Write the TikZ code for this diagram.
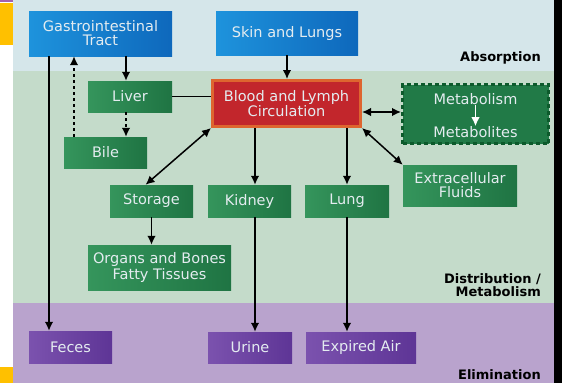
\documentclass[tikz,border=0pt]{standalone}
\usepackage{xcolor}
\usepackage{fontspec}
\setmainfont{DejaVu Sans}
\usepackage{tikz}
\usetikzlibrary{positioning}
\usetikzlibrary{arrows,arrows.meta}

\definecolor{absorbbg}{HTML}{D5E6EA}
\definecolor{distribbg}{HTML}{C4DBCA}
\definecolor{elimbg}{HTML}{B9A3CD}
\definecolor{bluelt}{HTML}{1E93DC}
\definecolor{bluedk}{HTML}{0E68BC}
\definecolor{greenlt}{HTML}{35955C}
\definecolor{greendk}{HTML}{1F7443}
\definecolor{purplelt}{HTML}{7B52AE}
\definecolor{purpledk}{HTML}{5E3596}
\definecolor{bloodred}{HTML}{C2262C}
\definecolor{bloodrim}{HTML}{DE652F}
\definecolor{metabfill}{HTML}{217A47}
\definecolor{metabrim}{HTML}{0D5A2C}
\definecolor{boxtext}{HTML}{E4ECF0}
\definecolor{stripe}{HTML}{FFC000}

\tikzset{
  box/.style={text=boxtext, align=center, inner sep=0pt,
    font=\fontsize{14.5}{14}\selectfont},
  bluebox/.style={box, left color=bluelt, right color=bluedk},
  greenbox/.style={box, left color=greenlt, right color=greendk},
  purplebox/.style={box, left color=purplelt, right color=purpledk},
  zone/.style={anchor=east, align=right, inner sep=0pt,
    font=\bfseries\fontsize{13}{13}\selectfont},
  tip/.style={>={Latex[length=9pt,width=8.5pt]}},
  flow/.style={tip, ->, line width=1.5pt},
  both/.style={tip, <->, line width=1.5pt},
}

\begin{document}
\begin{tikzpicture}[x=1pt, y=-1pt]
	\useasboundingbox (0,0) rectangle (562,383);
	% bands
	\fill[absorbbg] (13,0) rectangle (554,71);
	\fill[distribbg] (13,71) rectangle (554,303);
	\fill[elimbg] (13,303) rectangle (554,383);
	\fill[stripe] (0,3) rectangle (13,45);
	\fill[stripe] (0,367) rectangle (13,383);
	\fill[elimbg!60!violet] (0,0) rectangle (13,2);
	\fill[black] (554,0) rectangle (562,383);
	
	\node[zone] (absorb) at (541,58) {Absorption};
	\node[zone] (distrib) at (541,285) {Distribution /\\Metabolism};
	\node[zone] (elim) at (541,375) {Elimination};
	
	% absorption
	\node[bluebox, minimum width=143pt, minimum height=45pt] (gi) at (100.5,33.5) {Gastrointestinal\\Tract};
	\node[bluebox, minimum width=142pt, minimum height=44pt] (skin) at (287,33) {Skin and Lungs};
	
	% distribution
	\node[box, fill=bloodred, draw=bloodrim, line width=3pt, minimum width=148pt, minimum height=46pt] (blood) at (286.5,103.5) {Blood and Lymph\\Circulation};
	\node[greenbox, minimum width=84pt, minimum height=31pt] (liver) at (130,96.5) {Liver};
	\node[greenbox, minimum width=83pt, minimum height=31pt] (bile) at (105.5,152.5) {Bile};
	\node[box, fill=metabfill, draw=metabrim, line width=3pt, dash pattern=on 4pt off 3pt, minimum width=146pt, minimum height=59pt] (metab) at (475.5,114) {};
	\node[box] (mism) at ([yshift=15pt]metab.center) {Metabolism};
	\node[box] (mites) at ([yshift=-18pt]metab.center) {Metabolites};
	\node[greenbox, minimum width=114pt, minimum height=41pt] (extra) at (460,185.5) {Extracellular\\Fluids};
	\node[greenbox, minimum width=83pt, minimum height=32pt] (storage) at (151.5,201) {Storage};
	\node[greenbox, minimum width=83pt, minimum height=32pt] (kidney) at (249.5,201) {Kidney};
	\node[greenbox, minimum width=84pt, minimum height=32pt] (lung) at (347,201) {Lung};
	\node[greenbox, minimum width=143pt, minimum height=45pt] (organs) at (159.5,267.5) {Organs and Bones\\Fatty Tissues};
	
	% elimination
	\node[purplebox, minimum width=83pt, minimum height=32pt] (feces) at (70.5,347) {Feces};
	\node[purplebox, minimum width=84pt, minimum height=31pt] (urine) at (250,347.5) {Urine};
	\node[purplebox, minimum width=110pt, minimum height=31pt] (expired) at (361,347.5) {Expired Air};
	
	\draw[flow] (gi.south -| 126,0) -- (liver.north -| 126,0);
	\draw[flow] (skin.south) -- (blood.north -| skin.south);
	\draw[line width=1.5pt] (liver.east) -- (blood.west |- liver.east);
	\draw[flow, dashed] (liver.south -| 126,0) -- (bile.north -| 126,0);
	\draw[flow, dashed] (bile.north -| 74,0) -- (gi.south -| 74,0);
	\draw[flow] (gi.south -| 49,0) -- (feces.north -| 49,0);
	
	\draw[both] (blood.south west) -- ([xshift=-6pt]storage.north);
	\draw[flow] (blood.south -| 255,0) -- (kidney.north -| 255,0);
	\draw[flow] (blood.south -| lung.north) -- (lung.north);
	\draw[both] (blood.east |- 0,112) -- (metab.west |- 0,112);
	\draw[both] (blood.south east) -- (extra.north west);
	\draw[flow, white] (mism) -- (mites);
	
	\draw[flow] (storage.south) -- (organs.north -| storage.south);
	\draw[flow] (kidney.south -| 255,0) -- (urine.north -| 255,0);
	\draw[flow] (lung.south) -- (expired.north -| lung.south);
\end{tikzpicture}
\end{document}
